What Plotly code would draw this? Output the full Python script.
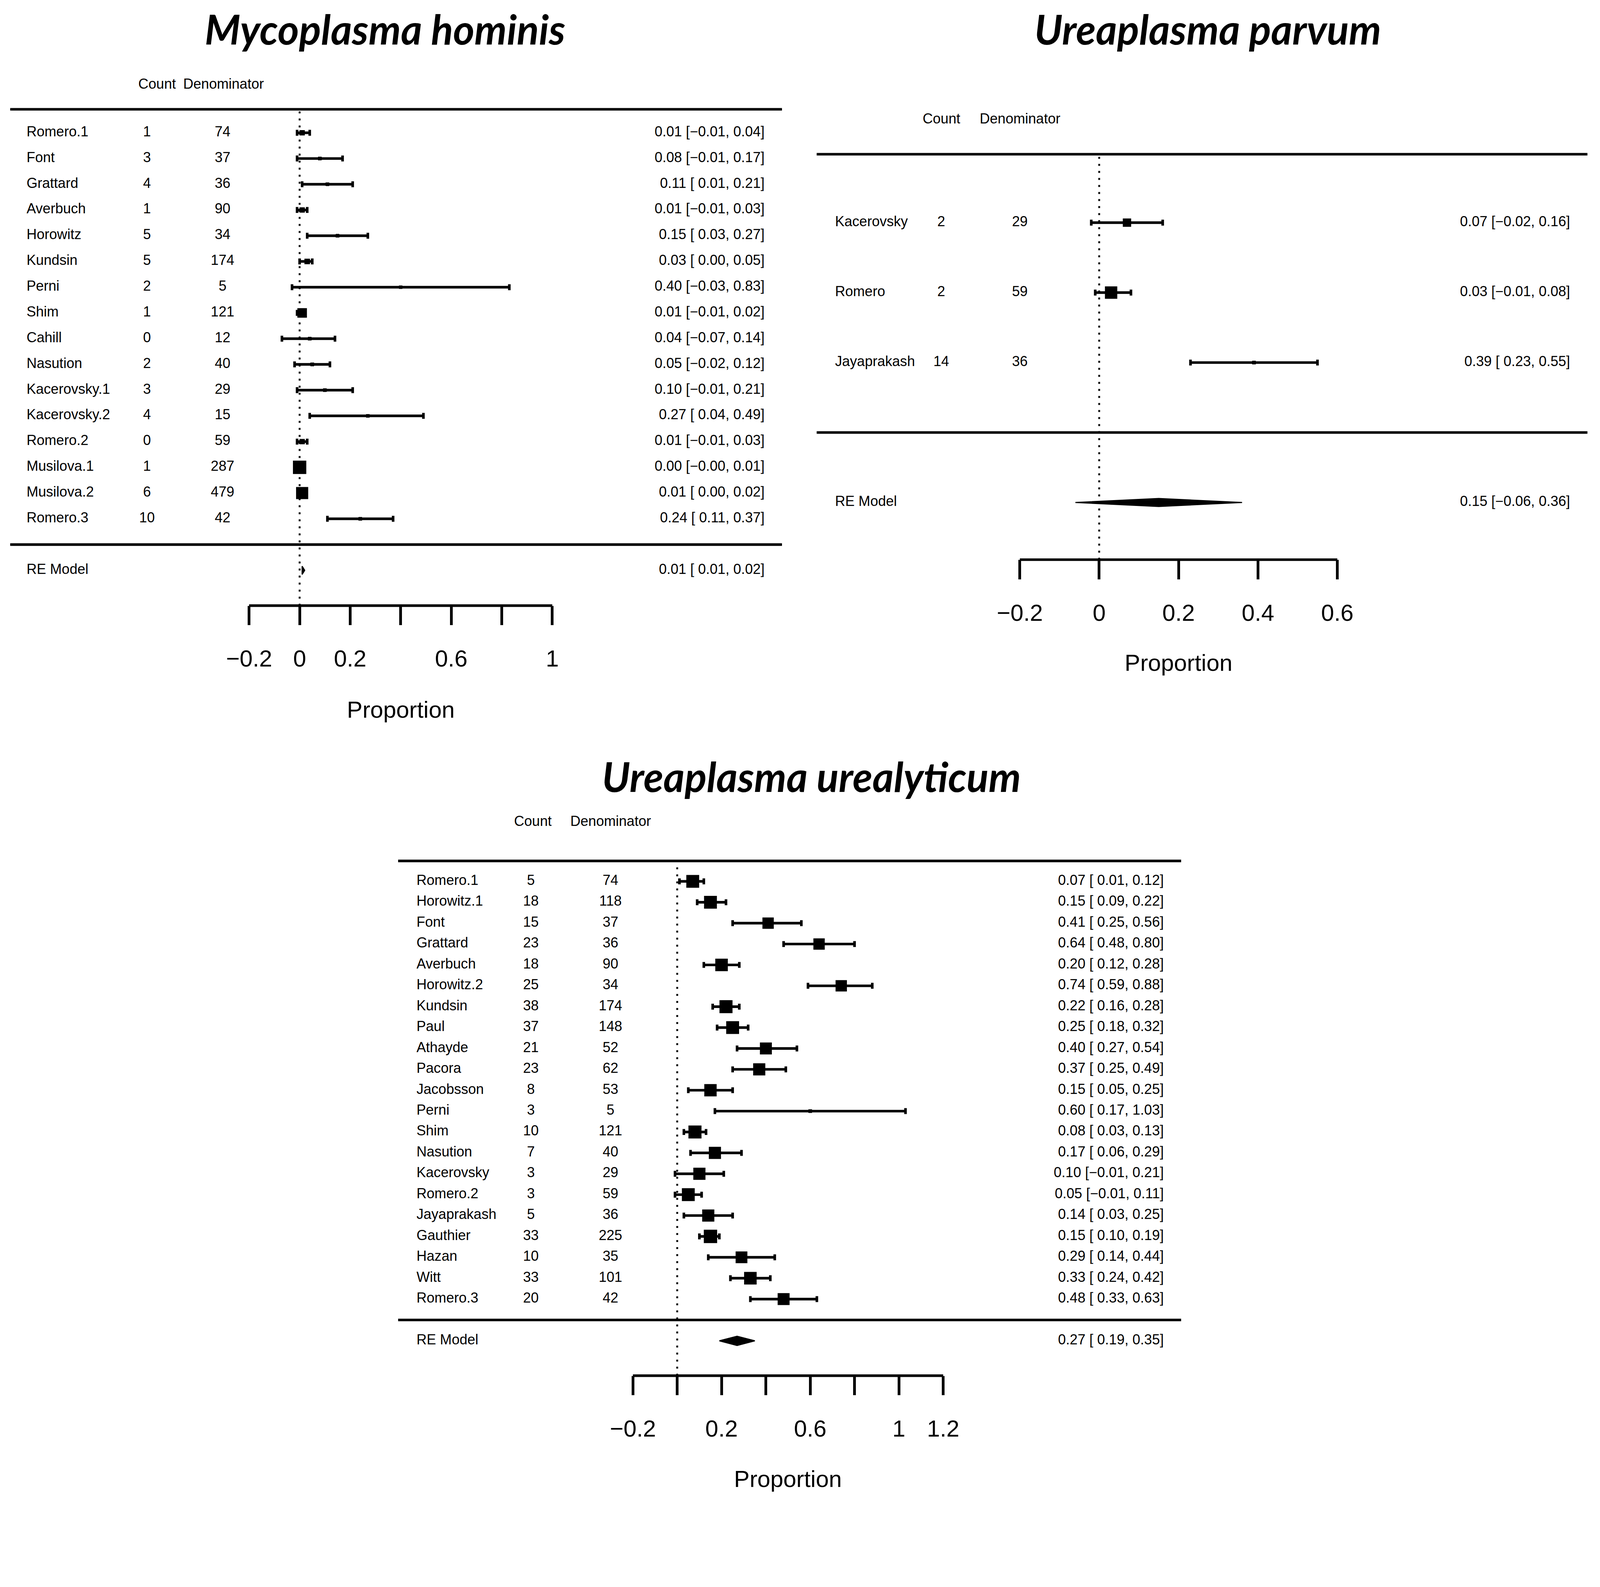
import plotly.graph_objects as go

# ---------------- data ----------------
# Mycoplasma hominis
mh_study = ["Romero.1", "Font", "Grattard", "Averbuch", "Horowitz", "Kundsin", "Perni", "Shim",
            "Cahill", "Nasution", "Kacerovsky.1", "Kacerovsky.2", "Romero.2", "Musilova.1",
            "Musilova.2", "Romero.3"]
mh_count = [1, 3, 4, 1, 5, 5, 2, 1, 0, 2, 3, 4, 0, 1, 6, 10]
mh_denom = [74, 37, 36, 90, 34, 174, 5, 121, 12, 40, 29, 15, 59, 287, 479, 42]
mh_est = [0.01, 0.08, 0.11, 0.01, 0.15, 0.03, 0.40, 0.01, 0.04, 0.05, 0.10, 0.27, 0.01, 0.00, 0.01, 0.24]
mh_lb = [-0.01, -0.01, 0.01, -0.01, 0.03, 0.00, -0.03, -0.01, -0.07, -0.02, -0.01, 0.04, -0.01, -0.003, 0.00, 0.11]
mh_ub = [0.04, 0.17, 0.21, 0.03, 0.27, 0.05, 0.83, 0.02, 0.14, 0.12, 0.21, 0.49, 0.03, 0.01, 0.02, 0.37]
mh_weight = [20, 3, 3, 20, 3, 22, 1, 62, 3, 4, 3, 2, 20, 100, 88, 3]
mh_re_est, mh_re_lb, mh_re_ub = 0.01, 0.01, 0.02
mh_ticks = [-0.2, 0, 0.2, 0.4, 0.6, 0.8, 1.0]
mh_ticklabels = ["\u22120.2", "0", "0.2", "", "0.6", "", "1"]

# Ureaplasma parvum
up_study = ["Kacerovsky", "Romero", "Jayaprakash"]
up_count = [2, 2, 14]
up_denom = [29, 59, 36]
up_est = [0.07, 0.03, 0.39]
up_lb = [-0.02, -0.01, 0.23]
up_ub = [0.16, 0.08, 0.55]
up_weight = [50, 90, 3]
up_re_est, up_re_lb, up_re_ub = 0.15, -0.06, 0.36
up_ticks = [-0.2, 0, 0.2, 0.4, 0.6]
up_ticklabels = ["\u22120.2", "0", "0.2", "0.4", "0.6"]

# Ureaplasma urealyticum
uu_study = ["Romero.1", "Horowitz.1", "Font", "Grattard", "Averbuch", "Horowitz.2", "Kundsin", "Paul",
            "Athayde", "Pacora", "Jacobsson", "Perni", "Shim", "Nasution", "Kacerovsky", "Romero.2",
            "Jayaprakash", "Gauthier", "Hazan", "Witt", "Romero.3"]
uu_count = [5, 18, 15, 23, 18, 25, 38, 37, 21, 23, 8, 3, 10, 7, 3, 3, 5, 33, 10, 33, 20]
uu_denom = [74, 118, 37, 36, 90, 34, 174, 148, 52, 62, 53, 5, 121, 40, 29, 59, 36, 225, 35, 101, 42]
uu_est = [0.07, 0.15, 0.41, 0.64, 0.20, 0.74, 0.22, 0.25, 0.40, 0.37, 0.15, 0.60, 0.08, 0.17, 0.10,
          0.05, 0.14, 0.15, 0.29, 0.33, 0.48]
uu_lb = [0.01, 0.09, 0.25, 0.48, 0.12, 0.59, 0.16, 0.18, 0.27, 0.25, 0.05, 0.17, 0.03, 0.06, -0.01,
         -0.01, 0.03, 0.10, 0.14, 0.24, 0.33]
uu_ub = [0.12, 0.22, 0.56, 0.80, 0.28, 0.88, 0.28, 0.32, 0.54, 0.49, 0.25, 1.03, 0.13, 0.29, 0.21,
         0.11, 0.25, 0.19, 0.44, 0.42, 0.63]
uu_weight = [95, 95, 80, 80, 92, 80, 97, 95, 86, 88, 90, 3, 97, 88, 88, 95, 88, 100, 84, 92, 86]
uu_re_est, uu_re_lb, uu_re_ub = 0.27, 0.19, 0.35
uu_ticks = [-0.2, 0, 0.2, 0.4, 0.6, 0.8, 1.0, 1.2]
uu_ticklabels = ["\u22120.2", "", "0.2", "", "0.6", "", "1", "1.2"]

titles = ["Mycoplasma hominis", "Ureaplasma parvum", "Ureaplasma urealyticum"]
col_headers = ["Count", "Denominator"]
axis_title = "Proportion"
re_label = "RE Model"

# ---------------- layout geometry (reference pixel grid 1568 x 1475) ----------------
W_D, H_D = 1568.0, 1475.0
SHOT_W, SHOT_H = 4317, 4062
SCX, SCY = SHOT_W / W_D, SHOT_H / H_D
ZOOM = 1.0535          # page magnification observed in the screenshot
BODY_MARGIN = 8        # default html body margin (css px)
FIG_W = int(SHOT_W / ZOOM - 2 * BODY_MARGIN - 2)
FIG_H = int(SHOT_H / ZOOM - 2 * BODY_MARGIN - 2)


def pxs(v):
    """screenshot pixels -> css pixels"""
    return v / ZOOM


def paper_x(xd):
    return (xd * SCX / ZOOM - BODY_MARGIN) / FIG_W


def paper_y(yd):
    return 1 - (yd * SCY / ZOOM - BODY_MARGIN) / FIG_H


panels = [
    dict(study=mh_study, count=mh_count, denom=mh_denom, est=mh_est, lb=mh_lb, ub=mh_ub, w=mh_weight,
         re=(mh_re_est, mh_re_lb, mh_re_ub), ticks=mh_ticks, ticklabels=mh_ticklabels, title=titles[0],
         zero=293.5, ppu=247.5, xl=10, xr=766, y_first=130, spacing=25.2, ytop=107, yaxis=593,
         lab_x=26, cnt_x=144, den_x=218, ci_x=749, hdr_y=82, hdr_cnt=154, hdr_den=219,
         title_x=377, title_y=28, prop_y=695, dia_h=4.0),
    dict(study=up_study, count=up_count, denom=up_denom, est=up_est, lb=up_lb, ub=up_ub, w=up_weight,
         re=(up_re_est, up_re_lb, up_re_ub), ticks=up_ticks, ticklabels=up_ticklabels, title=titles[1],
         zero=1076.75, ppu=388.75, xl=800, xr=1555, y_first=218, spacing=68.5, ytop=151, yaxis=548,
         lab_x=818, cnt_x=922, den_x=999, ci_x=1538, hdr_y=116, hdr_cnt=922, hdr_den=999,
         title_x=1183, title_y=28, prop_y=649, dia_h=3.9),
    dict(study=uu_study, count=uu_count, denom=uu_denom, est=uu_est, lb=uu_lb, ub=uu_ub, w=uu_weight,
         re=(uu_re_est, uu_re_lb, uu_re_ub), ticks=uu_ticks, ticklabels=uu_ticklabels, title=titles[2],
         zero=663.4, ppu=217.1, xl=390, xr=1157, y_first=863, spacing=20.45, ytop=843, yaxis=1347,
         lab_x=408, cnt_x=520, den_x=598, ci_x=1140, hdr_y=804, hdr_cnt=522, hdr_den=598,
         title_x=795, title_y=760, prop_y=1448, dia_h=4.5),
]

BODY_FONT = "Liberation Sans, Arial, Helvetica, sans-serif"
TITLE_FONT = "Lato, Open Sans, sans-serif"
BODY_SIZE = pxs(38)
TICK_SIZE = pxs(63)
TITLE_SIZE = pxs(110)
LINE_W = pxs(7)
CI_W = pxs(7)


def fmt(v):
    return f"{v:.2f}".replace("-", "\u2212")


def fmt_pad(v):
    return f"{v: .2f}".replace("-", "\u2212")


def ci_text(e, l, u):
    return f"{fmt(e)} [{fmt_pad(l)}, {fmt(u)}]"


fig = go.Figure()
shapes = []
annotations = []

for i, p in enumerate(panels, start=1):
    sfx = "" if i == 1 else str(i)
    xa, ya = "x" + sfx, "y" + sfx
    k = len(p["study"])
    rows = [k - j for j in range(k)]

    def dx(xd, p=p):
        return (xd - p["zero"]) / p["ppu"]

    def row_of(yd, p=p, k=k):
        return k - (yd - p["y_first"]) / p["spacing"]

    # study boxes with CI whiskers
    sizes = [pxs(9 + 27 * wv / 100.0) for wv in p["w"]]
    fig.add_trace(go.Scatter(
        x=p["est"], y=rows, xaxis=xa, yaxis=ya, mode="markers",
        marker=dict(symbol="square", size=sizes, color="black", opacity=1, line=dict(width=0)),
        error_x=dict(type="data", symmetric=False,
                     array=[u - e for u, e in zip(p["ub"], p["est"])],
                     arrayminus=[e - l for e, l in zip(p["est"], p["lb"])],
                     color="black", thickness=CI_W, width=pxs(8)),
        showlegend=False, hoverinfo="skip", cliponaxis=False))

    # RE model diamond
    e, l, u = p["re"]
    h = p["dia_h"] / p["spacing"]
    fig.add_trace(go.Scatter(
        x=[l, e, u, e, l], y=[-1, -1 + h, -1, -1 - h, -1], xaxis=xa, yaxis=ya,
        mode="lines", fill="toself", fillcolor="black", line=dict(color="black", width=pxs(3)),
        showlegend=False, hoverinfo="skip"))

    # text columns
    labels_y = rows + [-1]
    tf = dict(family=BODY_FONT, size=BODY_SIZE, color="black")
    fig.add_trace(go.Scatter(
        x=[dx(p["lab_x"])] * (k + 1), y=labels_y, xaxis=xa, yaxis=ya, mode="text",
        text=p["study"] + [re_label], textposition="middle right", textfont=tf,
        showlegend=False, hoverinfo="skip", cliponaxis=False))
    fig.add_trace(go.Scatter(
        x=[dx(p["cnt_x"])] * k, y=rows, xaxis=xa, yaxis=ya, mode="text",
        text=[str(c) for c in p["count"]], textposition="middle center", textfont=tf,
        showlegend=False, hoverinfo="skip", cliponaxis=False))
    fig.add_trace(go.Scatter(
        x=[dx(p["den_x"])] * k, y=rows, xaxis=xa, yaxis=ya, mode="text",
        text=[str(d) for d in p["denom"]], textposition="middle center", textfont=tf,
        showlegend=False, hoverinfo="skip", cliponaxis=False))
    fig.add_trace(go.Scatter(
        x=[dx(p["ci_x"])] * (k + 1), y=labels_y, xaxis=xa, yaxis=ya, mode="text",
        text=[ci_text(a, b, c) for a, b, c in zip(p["est"], p["lb"], p["ub"])] + [ci_text(e, l, u)],
        textposition="middle left", textfont=tf,
        showlegend=False, hoverinfo="skip", cliponaxis=False))

    # axes
    fig.update_layout({
        "xaxis" + sfx: dict(
            domain=[paper_x(p["xl"]), paper_x(p["xr"])], range=[dx(p["xl"]), dx(p["xr"])],
            anchor=ya, tickmode="array", tickvals=p["ticks"], ticktext=p["ticklabels"],
            ticks="outside", ticklen=pxs(52), tickwidth=LINE_W, tickcolor="black",
            showline=False, showgrid=False, zeroline=False, fixedrange=True,
            tickfont=dict(family=BODY_FONT, size=TICK_SIZE, color="black"),
            ticklabelstandoff=int(round(pxs(36)))),
        "yaxis" + sfx: dict(
            domain=[paper_y(p["yaxis"]), paper_y(p["ytop"])],
            range=[row_of(p["yaxis"]), row_of(p["ytop"])],
            anchor=xa, visible=False, fixedrange=True),
    })

    # lines
    shapes.append(dict(type="line", xref=xa + " domain", yref=ya + " domain", x0=0, x1=1, y0=1, y1=1,
                       line=dict(color="black", width=LINE_W)))
    shapes.append(dict(type="line", xref=xa + " domain", yref=ya, x0=0, x1=1, y0=0, y1=0,
                       line=dict(color="black", width=LINE_W)))
    shapes.append(dict(type="line", xref=xa, yref=ya + " domain", x0=p["ticks"][0], x1=p["ticks"][-1],
                       y0=0, y1=0, line=dict(color="black", width=LINE_W)))
    shapes.append(dict(type="line", xref=xa, yref=ya + " domain", x0=0, x1=0, y0=0, y1=1,
                       line=dict(color="black", width=pxs(5), dash="5px,13px")))

    # header, title, axis title
    for txt, hx in zip(col_headers, [p["hdr_cnt"], p["hdr_den"]]):
        annotations.append(dict(text=txt, xref="paper", yref="paper", x=paper_x(hx), y=paper_y(p["hdr_y"]),
                                xanchor="center", yanchor="middle", showarrow=False,
                                font=dict(family=BODY_FONT, size=BODY_SIZE, color="black")))
    annotations.append(dict(text="<b><i>" + p["title"] + "</i></b>", xref="paper", yref="paper",
                            x=paper_x(p["title_x"]), y=paper_y(p["title_y"]),
                            xanchor="center", yanchor="middle", showarrow=False,
                            font=dict(family=TITLE_FONT, size=TITLE_SIZE, color="black")))
    annotations.append(dict(text=axis_title, xref=xa, yref="paper",
                            x=(p["ticks"][0] + p["ticks"][-1]) / 2, y=paper_y(p["prop_y"]),
                            xanchor="center", yanchor="middle", showarrow=False,
                            font=dict(family=BODY_FONT, size=TICK_SIZE, color="black")))

fig.update_layout(width=FIG_W, height=FIG_H, margin=dict(l=0, r=0, t=0, b=0),
                  paper_bgcolor="white", plot_bgcolor="white",
                  shapes=shapes, annotations=annotations, showlegend=False)

fig.write_html("out.html")
